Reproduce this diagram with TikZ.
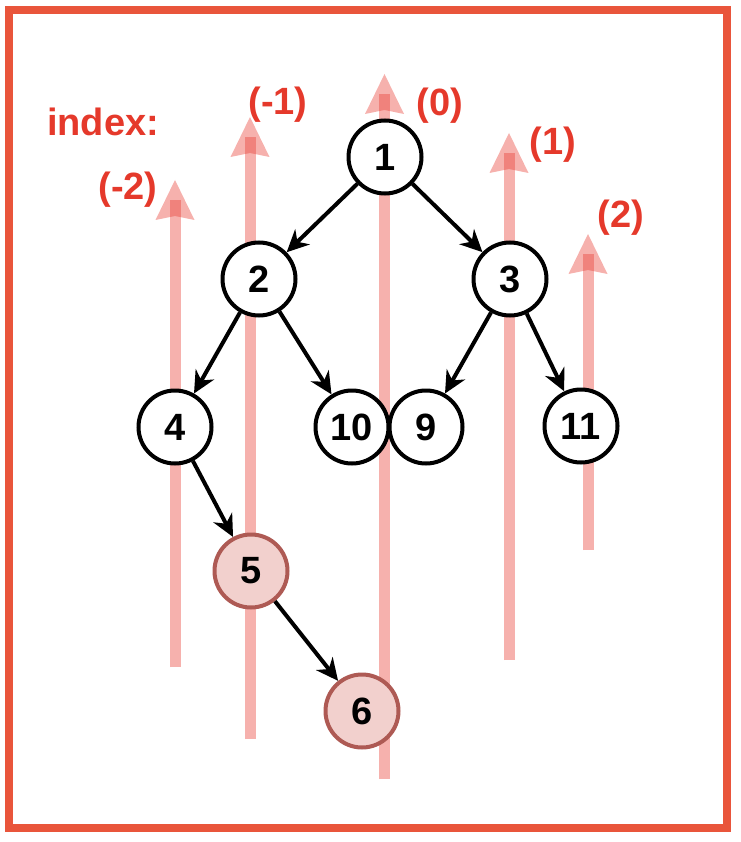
\documentclass[tikz,border=0pt]{standalone}
\usepackage{fontspec}
\setmainfont{Liberation Sans}
\usetikzlibrary{arrows.meta}
\definecolor{framered}{RGB}{233,85,59}
\definecolor{labelred}{RGB}{229,57,43}
\definecolor{guide}{RGB}{232,60,50}
\definecolor{hlfill}{RGB}{242,208,205}
\definecolor{hledge}{RGB}{174,90,84}
\begin{document}
\begin{tikzpicture}[x=1pt,y=-1pt,
  vertex/.style={circle,draw=black,line width=4pt,fill=white,minimum size=73pt,
    inner sep=0pt,font=\fontsize{38}{42}\selectfont\bfseries},
  visited/.style={vertex,draw=hledge,fill=hlfill},
  edge/.style={-{Stealth[length=22pt,width=21pt,inset=7pt]},line width=4pt,black},
  guideline/.style={draw=guide,draw opacity=0.4,line width=11pt},
  guidehead/.style={fill=guide,fill opacity=0.4},
  idx/.style={text=labelred,font=\fontsize{38}{42}\selectfont\bfseries}]
\useasboundingbox (0,0) rectangle (740,842);

% outer frame
\draw[framered,line width=8pt] (9,10) rectangle (727,828);

% vertical column guides (bottom end, tip of head)
\coordinate (gAb) at (175,667);   \coordinate (gAt) at (175,180);
\coordinate (gBb) at (250,739);   \coordinate (gBt) at (250,117);
\coordinate (gCb) at (384.5,779); \coordinate (gCt) at (384.5,74);
\coordinate (gDb) at (509,660);   \coordinate (gDt) at (509,133);
\coordinate (gEb) at (588,550);   \coordinate (gEt) at (588,234);
\foreach \g in {gA,gB,gC,gD,gE}{
  \draw[guideline] (\g b) -- ([yshift=-20pt]\g t);
  \fill[guidehead] (\g t) -- ([xshift=-19.5pt,yshift=-40pt]\g t)
    -- ([yshift=-36pt]\g t)
    -- ([xshift=19.5pt,yshift=-40pt]\g t) -- cycle;
}

% column labels
\node[idx] (lidx) at (103,122) {index:};
\node[idx] (lm2) at (128,190) {(-2)};
\node[idx] (lm1) at (278,105) {(-1)};
\node[idx] (l0)  at (440,106) {(0)};
\node[idx] (l1)  at (553,145) {(1)};
\node[idx] (l2)  at (621,218) {(2)};

% tree
\node[vertex] (n1)  at (385,157) {1};
\node[vertex] (n2)  at (259,279) {2};
\node[vertex] (n3)  at (510,279) {3};
\node[vertex] (n4)  at (175,427) {4};
\node[vertex] (n10) at (352,427) {10};
\node[vertex] (n9)  at (426,427) {9};
\node[vertex] (n11) at (581,426) {11};
\node[visited] (n5) at (251,571) {5};
\node[visited] (n6) at (362,711) {6};

\draw[edge] (n1) -- (n2);
\draw[edge] (n1) -- (n3);
\draw[edge] (n2) -- (n4);
\draw[edge] (n2) -- (n10);
\draw[edge] (n3) -- (n9);
\draw[edge] (n3) -- (n11);
\draw[edge] (n4) -- (n5);
\draw[edge] (n5) -- (n6);
\end{tikzpicture}
\end{document}
